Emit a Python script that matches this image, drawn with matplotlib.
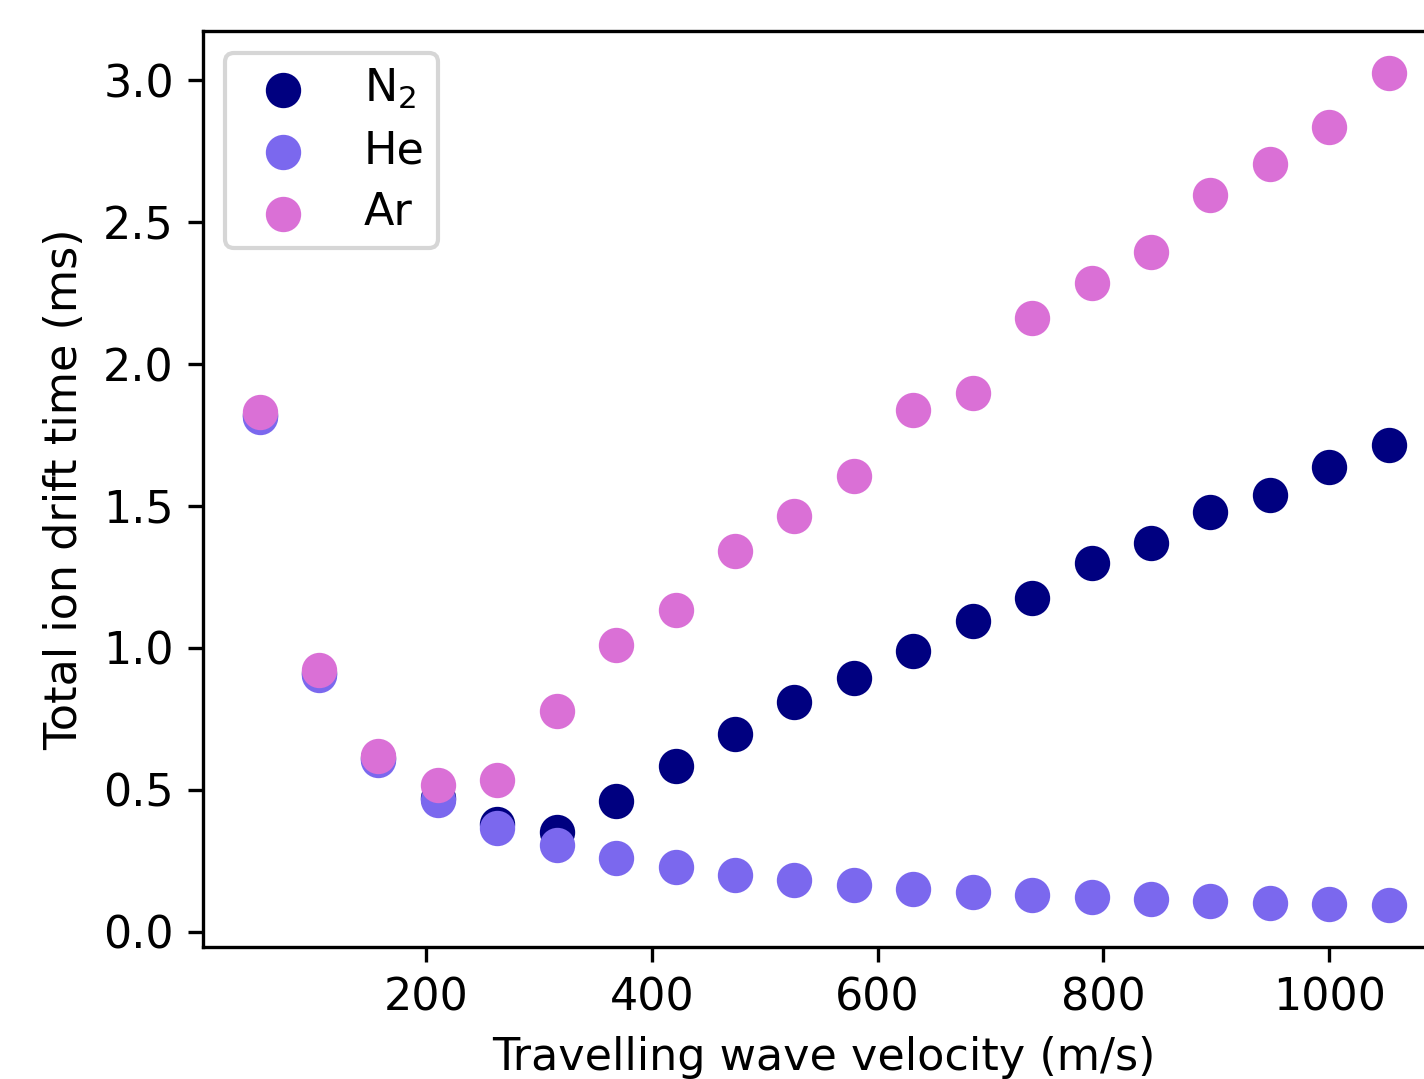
import numpy as np
import matplotlib
matplotlib.use("Agg")
import matplotlib.pyplot as plt

############################
# travelling wave velocity (m/s)
velocity = [52.6, 105.3, 157.9, 210.5, 263.2, 315.8, 368.4, 421.1, 473.7, 526.3,
            578.9, 631.6, 684.2, 736.8, 789.5, 842.1, 894.7, 947.4, 1000.0, 1052.6]

# total ion drift time (ms)
drift_n2 = [1.82, 0.91, 0.61, 0.47, 0.38, 0.35, 0.46, 0.585, 0.695, 0.81,
            0.895, 0.99, 1.095, 1.175, 1.297, 1.368, 1.477, 1.54, 1.638, 1.716]
drift_he = [1.815, 0.905, 0.603, 0.462, 0.366, 0.306, 0.26, 0.226, 0.2, 0.18,
            0.163, 0.15, 0.14, 0.13, 0.122, 0.113, 0.106, 0.101, 0.096, 0.092]
drift_ar = [1.831, 0.921, 0.62, 0.515, 0.535, 0.776, 1.008, 1.134, 1.342, 1.466,
            1.607, 1.839, 1.898, 2.162, 2.287, 2.395, 2.594, 2.705, 2.837, 3.027]

gas_labels = [r'N$_2$', 'He', 'Ar']
gas_colors = ['navy', 'mediumslateblue', 'orchid']
############################

plt.rcParams['font.size'] = 10.7

fig = plt.figure(figsize=(1424 / 300, 1079 / 300), dpi=300)
# axes runs past the right edge of the picture, as in the original crop
ax = fig.add_axes([0.1426, 0.1223, 0.8722, 0.849])

for y, lab, col in zip([drift_n2, drift_he, drift_ar], gas_labels, gas_colors):
    ax.scatter(velocity, y, s=56, color=col, label=lab)

ax.set_xlabel('Travelling wave velocity (m/s)')
ax.set_ylabel('Total ion drift time (ms)')
ax.legend(loc='upper left', labelspacing=0.42, borderpad=0.3)

fig.savefig('out.png', dpi=300)
